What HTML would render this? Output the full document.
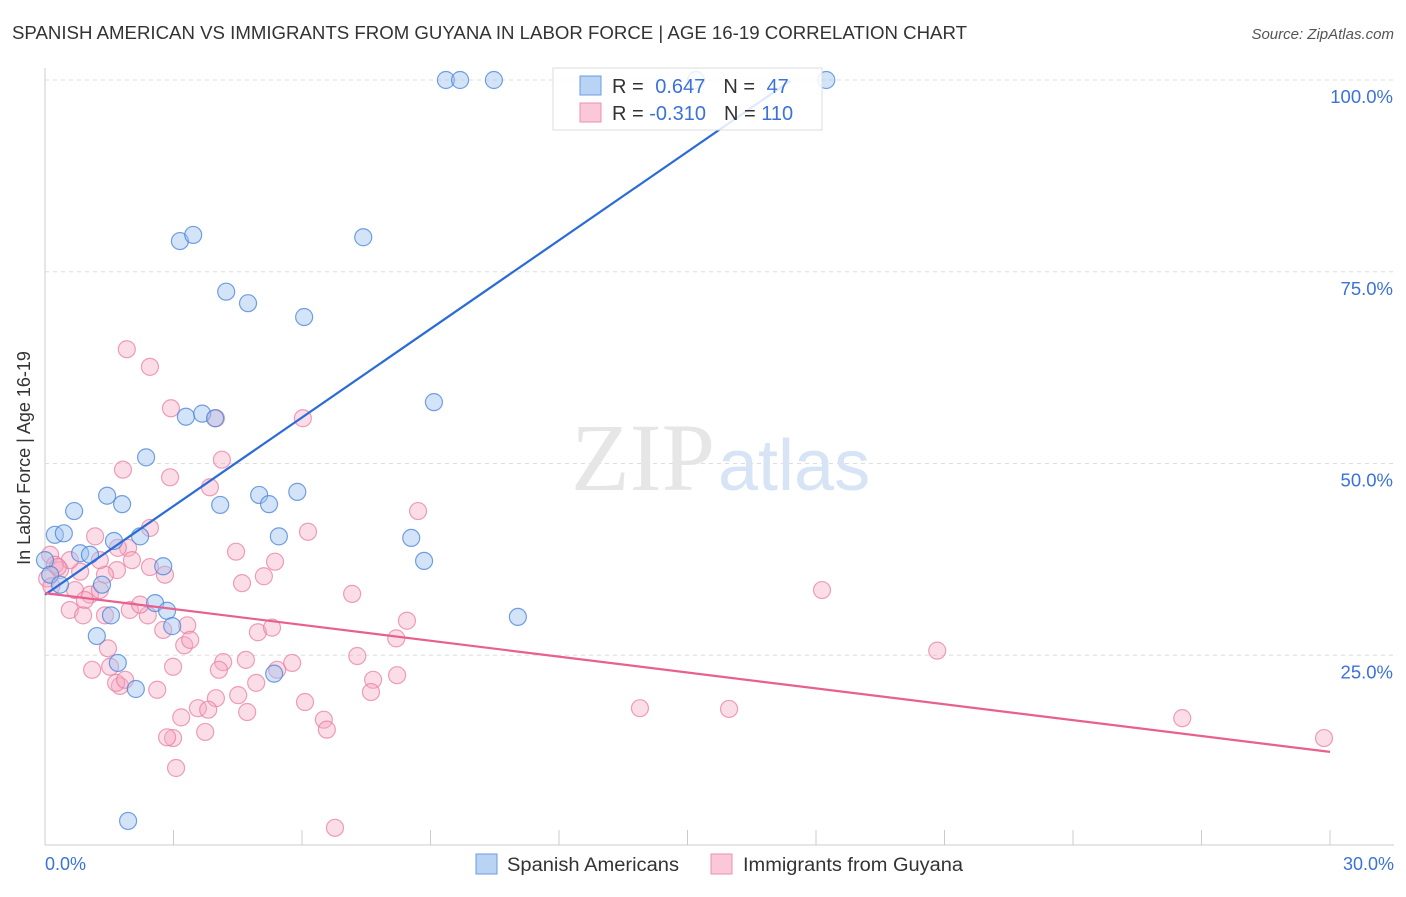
<!DOCTYPE html>
<html><head><meta charset="utf-8"><style>
body{margin:0;background:#fff;font-family:"Liberation Sans",sans-serif}
</style></head><body>
<svg width="1406" height="892" xmlns="http://www.w3.org/2000/svg" style="font-family:'Liberation Sans',sans-serif">
<text x="12" y="39" font-size="18.5" fill="#333" textLength="955" lengthAdjust="spacingAndGlyphs">SPANISH AMERICAN VS IMMIGRANTS FROM GUYANA IN LABOR FORCE | AGE 16-19 CORRELATION CHART</text>
<text x="1394" y="39" font-size="15" fill="#555" font-style="italic" text-anchor="end">Source: ZipAtlas.com</text>
<g id="grid"></g>
<text x="715" y="490" font-size="96" fill="#e6e6e6" text-anchor="end" font-family="Liberation Serif">ZIP</text>
<text x="718" y="490" font-size="72" fill="#d6e4f5">atlas</text>
<g id="pts"></g>
<g id="lines"></g>
<text x="30" y="458" font-size="18" fill="#333" text-anchor="middle" transform="rotate(-90 30 458)">In Labor Force | Age 16-19</text>
<text x="45" y="870" font-size="18" fill="#3b72d9">0.0%</text>
<text x="1394" y="870" font-size="18" fill="#3b72d9" text-anchor="end">30.0%</text>
<g>
<rect x="553" y="68" width="269" height="62" fill="rgba(255,255,255,0.85)" stroke="#ddd"/>
<rect x="580" y="76" width="21" height="19" fill="#b9d3f5" stroke="#6b9be0"/>
<rect x="580" y="103" width="21" height="19" fill="#fac8d6" stroke="#ee8fae"/>
<text x="612" y="93" font-size="20" fill="#333">R = <tspan fill="#3b72d9" dx="6">0.647</tspan><tspan dx="18" fill="#333">N = </tspan><tspan dx="6" fill="#3b72d9">47</tspan></text>
<text x="612" y="120" font-size="20" fill="#333">R = <tspan fill="#3b72d9">-0.310</tspan><tspan dx="18" fill="#333">N = </tspan><tspan fill="#3b72d9">110</tspan></text>
</g>
<g>
<rect x="476" y="854" width="21" height="20" fill="#b9d3f5" stroke="#6b9be0"/>
<text x="507" y="871" font-size="19" fill="#333" textLength="172" lengthAdjust="spacingAndGlyphs">Spanish Americans</text>
<rect x="711" y="854" width="21" height="20" fill="#fac8d6" stroke="#ee8fae"/>
<text x="743" y="871" font-size="19" fill="#333" textLength="220" lengthAdjust="spacingAndGlyphs">Immigrants from Guyana</text>
</g>
</svg>
<script>
const yTicks=[25,50,75,100];
const yTickLabels=["25.0%","50.0%","75.0%","100.0%"];
const xTicks=[0,3,6,9,12,15,18,21,24,27,30];
const blueX=[9.36,9.69,10.48,18.24,15.2,3.15,3.46,7.43,4.23,4.74,6.05,9.08,3.29,3.67,3.97,2.36,1.45,1.80,4.09,5.0,5.23,5.89,0.68,0.23,0.44,2.22,5.46,8.55,1.61,0.82,1.05,2.76,8.85,1.33,2.57,2.85,2.97,1.54,1.21,11.04,1.70,2.12,5.35,1.94,0,0.12,0.35];
const blueY=[100,100,100,100,100,79.0,79.8,79.5,72.4,70.9,69.1,58.0,56.1,56.5,55.9,50.8,45.8,44.7,44.6,45.9,44.7,46.3,43.8,40.7,40.9,40.5,40.5,40.3,39.9,38.3,38.1,36.6,37.3,34.2,31.8,30.8,28.8,30.2,27.5,30.0,24.0,20.6,22.6,3.4,37.4,35.5,34.2];
const pinkX=[1.91,2.45,2.94,3.99,6.02,1.82,2.92,4.13,3.85,8.71,6.14,2.45,1.17,4.46,1.94,1.70,2.03,5.37,1.68,2.45,2.80,4.60,5.11,7.17,18.14,1.40,0.82,0.35,0.58,0.12,0.23,0.70,1.05,1.28,0.93,0.58,0.89,1.40,1.98,2.40,3.32,2.76,4.97,5.30,8.45,8.20,3.25,3.39,1.47,1.10,1.52,1.75,1.66,1.87,2.62,2.99,4.16,4.69,5.77,5.42,4.06,4.72,4.51,3.99,4.93,6.07,3.57,3.81,3.18,2.99,2.85,3.74,6.51,6.58,7.29,7.66,7.61,8.22,20.83,13.89,15.97,26.55,29.86,6.77,3.06,2.22,1.28,0.05,0.15,0.3];
const pinkY=[64.9,62.6,57.2,55.9,55.9,49.2,48.2,50.5,46.9,43.8,41.1,41.6,40.5,38.5,39.0,39.0,37.4,37.2,36.1,36.5,35.5,34.4,35.3,33.0,33.5,35.5,35.9,36.1,37.4,38.1,36.8,33.5,32.9,33.5,32.2,30.9,30.2,30.2,30.9,30.2,28.9,28.3,28.0,28.6,29.5,27.2,26.3,27.0,25.9,23.1,23.5,21.0,21.4,21.8,20.5,23.5,24.1,24.4,24.0,23.1,23.1,17.6,19.8,19.4,21.4,18.9,18.1,17.9,16.9,14.2,14.3,15.0,16.6,15.3,24.9,21.8,20.2,22.4,25.6,18.1,18.0,16.8,14.2,2.5,10.3,31.6,37.4,35.0,34.0,36.5];
const blueLine=[32.9,3.85,17.4];
const pinkLine=[33.1,-0.69,30];
const X=v=>45+v/30*1285, Y=v=>847-v*7.67;
const NS="http://www.w3.org/2000/svg";
function mk(t,a,p){const e=document.createElementNS(NS,t);for(const k in a)e.setAttribute(k,a[k]);p.appendChild(e);return e;}
const g=document.getElementById('grid');
mk('line',{x1:45,y1:68,x2:45,y2:845,stroke:'#ccc'},g);
mk('line',{x1:45,y1:845,x2:1394,y2:845,stroke:'#ccc'},g);
yTicks.forEach((t,i)=>{
 const l=mk('line',{x1:45,y1:Y(t),x2:1394,y2:Y(t),stroke:'#ddd','stroke-dasharray':'4,4'},g);
 
 
 const tx=mk('text',{x:1393,y:Y(t)+23,'font-size':18.5,fill:'#3b72d9','text-anchor':'end'},g);
 tx.textContent=yTickLabels[i];
 
 
});
xTicks.forEach(t=>{
 const l=mk('line',{x1:X(t),y1:830,x2:X(t),y2:845,stroke:'#ccc'},g);
 
 
});
const P=document.getElementById('pts');
pinkX.forEach((x,i)=>{const c=mk('circle',{cx:X(x),cy:Y(pinkY[i]),r:8.5,fill:'rgba(246,170,195,0.4)',stroke:'rgba(232,120,160,0.7)','stroke-width':1.2},P);
 
 });
blueX.forEach((x,i)=>{const c=mk('circle',{cx:X(x),cy:Y(blueY[i]),r:8.5,fill:'rgba(160,195,240,0.45)',stroke:'rgba(70,130,215,0.75)','stroke-width':1.2},P);
 
 });
const L=document.getElementById('lines');
let b=mk('line',{x1:X(0),y1:Y(blueLine[0]),x2:X(blueLine[2]),y2:Y(blueLine[0]+blueLine[1]*blueLine[2]),stroke:'#2a6bd6','stroke-width':2.2},L);


let p=mk('line',{x1:X(0),y1:Y(pinkLine[0]),x2:X(pinkLine[2]),y2:Y(pinkLine[0]+pinkLine[1]*pinkLine[2]),stroke:'#e8608f','stroke-width':2.2},L);


</script>
</body></html>
